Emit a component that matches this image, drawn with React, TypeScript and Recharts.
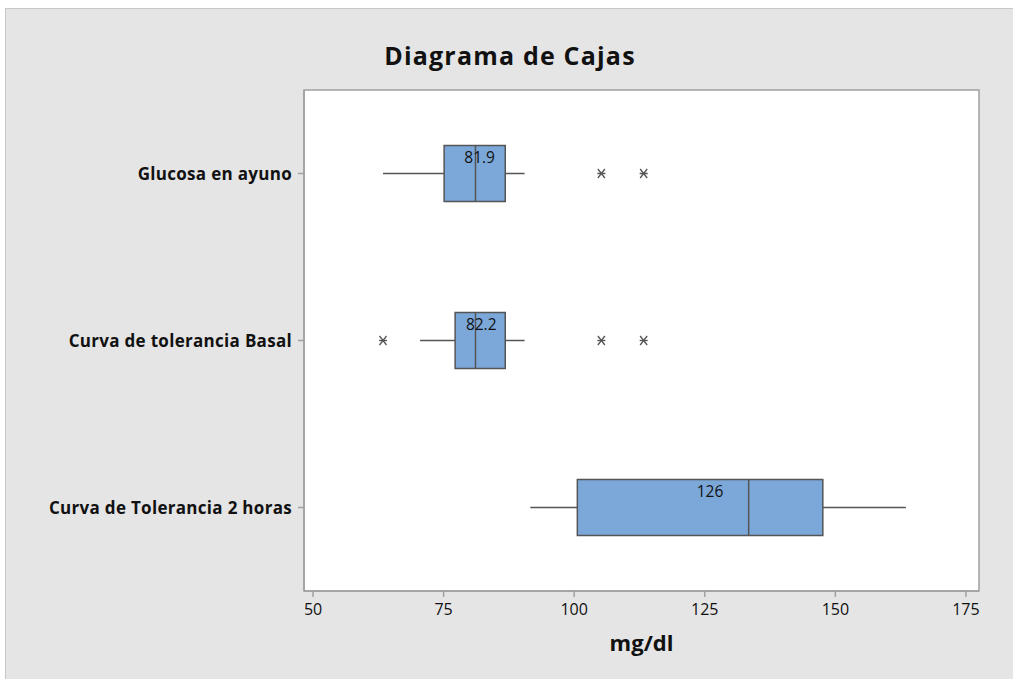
import { Bar, ComposedChart, ReferenceArea, XAxis, YAxis } from "recharts";

const categories = ["Glucosa en ayuno", "Curva de tolerancia Basal", "Curva de Tolerancia 2 horas"];
const whiskerLow = [63.4, 70.5, 91.6];
const q1 = [75.1, 77.2, 100.6];
const median = [81.1, 81.1, 133.4];
const q3 = [86.8, 86.8, 147.6];
const whiskerHigh = [90.5, 90.5, 163.5];
const means = [81.9, 82.2, 126];
const meanLabels = ["81.9", "82.2", "126"];
const outliers = [[105.2, 113.3], [63.4, 105.2, 113.3], []];
const xTicks = [50, 75, 100, 125, 150, 175];

const rows = categories.map((name, i) => ({
  name,
  range: [whiskerLow[i], whiskerHigh[i]],
  q1: q1[i],
  median: median[i],
  q3: q3[i],
  mean: means[i],
  meanLabel: meanLabels[i],
  outliers: outliers[i],
}));

const FONT = "'Open Sans', 'Noto Sans', sans-serif";

function BoxShape(props: any) {
  const { x, y, width, height, payload } = props;
  const [lo, hi] = payload.range;
  const k = width / (hi - lo);
  const px = (v: number) => x + (v - lo) * k;
  const cy = y + height / 2;
  const top = cy - 28;
  const bh = 56;
  const stroke = "#555555";
  return (
    <g>
      <line x1={px(lo)} x2={px(payload.q1)} y1={cy} y2={cy} stroke={stroke} strokeWidth={1.5} />
      <line x1={px(payload.q3)} x2={px(hi)} y1={cy} y2={cy} stroke={stroke} strokeWidth={1.5} />
      <rect
        x={px(payload.q1)}
        y={top}
        width={px(payload.q3) - px(payload.q1)}
        height={bh}
        fill="#7ba7d9"
        stroke={stroke}
        strokeWidth={1.5}
      />
      <line x1={px(payload.median)} x2={px(payload.median)} y1={top} y2={top + bh} stroke={stroke} strokeWidth={1.5} />
      <text
        x={px(payload.mean)}
        y={top + 17}
        textAnchor="middle"
        fontFamily={FONT}
        fontSize={15.5}
        fill="#111"
      >
        {payload.meanLabel}
      </text>
      {payload.outliers.map((v: number, j: number) => {
        const ox = px(v);
        return (
          <g key={j} stroke="#555" strokeWidth={1.3}>
            <line x1={ox - 4} x2={ox + 4} y1={cy} y2={cy} />
            <line x1={ox - 3.5} x2={ox + 3.5} y1={cy - 4.5} y2={cy + 4.5} />
            <line x1={ox - 3.5} x2={ox + 3.5} y1={cy + 4.5} y2={cy - 4.5} />
          </g>
        );
      })}
    </g>
  );
}

export default function App() {
  return (
    <div
      style={{
        position: "absolute",
        left: 5,
        top: 8,
        width: 1008,
        height: 671,
        background: "#e5e5e5",
        borderLeft: "1px solid #c8c8c8",
        borderTop: "1px solid #c8c8c8",
        boxSizing: "border-box",
      }}
    >
      <div
        style={{
          position: "absolute",
          left: 0,
          width: 1008,
          top: 29,
          textAlign: "center",
          fontFamily: FONT,
          fontWeight: 700,
          fontSize: 25,
          letterSpacing: 1.2,
          color: "#111",
        }}
      >
        Diagrama de Cajas
      </div>
      <ComposedChart
        width={1008}
        height={671}
        data={rows}
        layout="vertical"
        margin={{ top: 81, right: 35, bottom: 0, left: 0 }}
        barCategoryGap={0}
      >
        <ReferenceArea x1={48.27} x2={177.5} fill="#ffffff" fillOpacity={1} stroke="none" />
        <XAxis
          type="number"
          domain={[48.27, 177.5]}
          ticks={xTicks}
          allowDataOverflow
          height={89}
          tickSize={6}
          tickMargin={7}
          stroke="#a0a0a0"
          strokeWidth={1.5}
          tick={{ fill: "#111", fontSize: 16, fontFamily: FONT }}
          label={{
            value: "mg/dl",
            position: "insideTop",
            offset: 44,
            style: { fill: "#111", fontSize: 22, fontWeight: 700, fontFamily: FONT },
          }}
        />
        <YAxis
          type="category"
          dataKey="name"
          width={298}
          tickSize={6}
          tickMargin={6}
          stroke="#a0a0a0"
          strokeWidth={1.5}
          tick={{ fill: "#111", fontSize: 17, fontWeight: 700, fontFamily: FONT, letterSpacing: 0.3 }}
        />
        <ReferenceArea x1={48.27} x2={177.5} fill="none" stroke="#a0a0a0" strokeWidth={1.5} />
        <Bar dataKey="range" shape={<BoxShape />} isAnimationActive={false} />
      </ComposedChart>
    </div>
  );
}
